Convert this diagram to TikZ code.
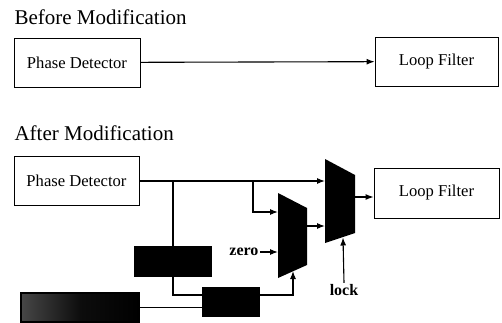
\documentclass[tikz,border=0pt]{standalone}
\usepackage{fontspec}
\setmainfont{Liberation Serif}
\usetikzlibrary{arrows.meta}

\begin{document}
\begin{tikzpicture}[x=1pt,y=-1pt,line width=1.1pt,
    blk/.style={draw,line width=0.9pt,font=\fontsize{16.6}{18}\selectfont},
    arr/.style={-{Latex[length=8pt,width=6pt]}}]
        \useasboundingbox (0,0) rectangle (502,323);
        \node[anchor=base west,font=\fontsize{21}{23}\selectfont,inner sep=0pt] (before) at (14,25) {Before Modification};
        \node[blk,minimum width=126pt,minimum height=49pt] (pd1) at (77,62.5) {Phase Detector};
        \node[blk,minimum width=123pt,minimum height=49pt] (lf1) at (436.5,61.5) {Loop Filter};
        \draw[arr] (pd1) -- (lf1);

        \node[anchor=base west,font=\fontsize{21}{23}\selectfont,inner sep=0pt] (after) at (14,140) {After Modification};
        \node[blk,minimum width=125pt,minimum height=49pt] (pd2) at (76.5,181) {Phase Detector};
        \node[blk,minimum width=125pt,minimum height=50pt] (lf2) at (436.5,193) {Loop Filter};
        \node[draw,fill=black,minimum width=76pt,minimum height=29pt] (cnt) at (173,261.5) {};
        \node[draw,fill=black,minimum width=56pt,minimum height=29pt] (gate) at (231,302) {};
        \node[draw,left color=black!72,right color=black,middle color=black!95,minimum width=118pt,minimum height=29pt] (det) at (80,307.5) {};

        \fill (278,193) -- (307,208) -- (307,265) -- (278,278) -- cycle;
        \fill (325,159) -- (355,175) -- (355,233) -- (325,243) -- cycle;
        \coordinate (m1in1) at (278,212);
        \coordinate (m1in2) at (278,252);
        \coordinate (m1sel) at (293,271);
        \coordinate (m1out) at (307,226);
        \coordinate (m2in1) at (325,181);
        \coordinate (m2in2) at (325,226);
        \coordinate (m2sel) at (343,237.5);
        \coordinate (m2out) at (355,197);

        \node[anchor=east,font=\bfseries\fontsize{16}{18}\selectfont,inner sep=1pt] (zero) at (260,252) {zero};
        \node[font=\bfseries\fontsize{16}{18}\selectfont,inner sep=1pt] (lock) at (344,290) {lock};

        \draw[arr] (pd2.east) -- (m2in1);
        \draw (cnt.north |- pd2.east) -- (cnt.north);
        \draw[arr] (253,181) |- (m1in1);
        \draw[arr] (zero.east) -- (m1in2);
        \draw (cnt.south) |- ([yshift=7pt]gate.west);
        \draw (det.east) -- (det.east -| gate.west);
        \draw[arr] ([yshift=7pt]gate.east) -| (m1sel);
        \draw[arr] (m1out) -- (m2in2);
        \draw[arr] (lock.north) -- (m2sel);
        \draw[arr] (m2out) -- (lf2.west |- m2out);
    \end{tikzpicture}
\end{document}
